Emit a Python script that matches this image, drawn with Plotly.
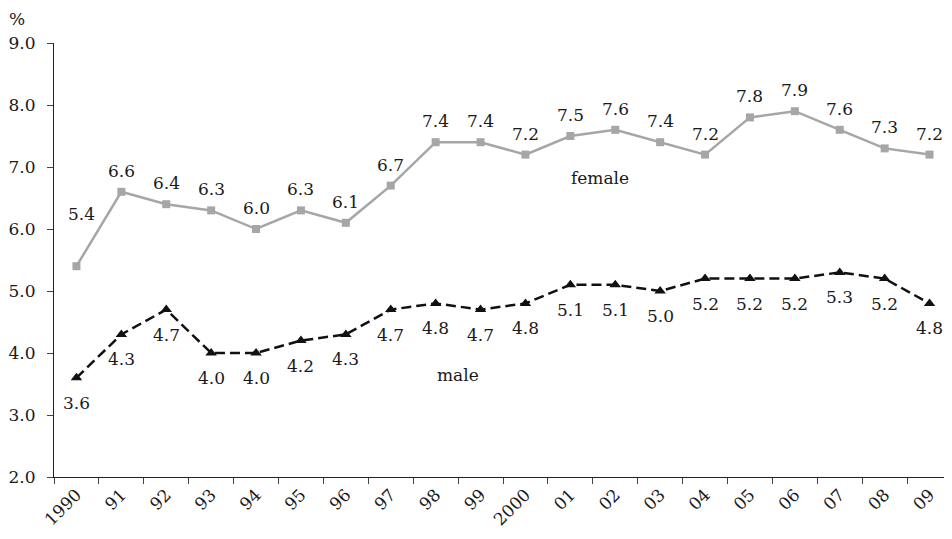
import plotly.graph_objects as go

years = ["1990", "91", "92", "93", "94", "95", "96", "97", "98", "99", "2000",
         "01", "02", "03", "04", "05", "06", "07", "08", "09"]
female = [5.4, 6.6, 6.4, 6.3, 6.0, 6.3, 6.1, 6.7, 7.4, 7.4, 7.2,
          7.5, 7.6, 7.4, 7.2, 7.8, 7.9, 7.6, 7.3, 7.2]
male = [3.6, 4.3, 4.7, 4.0, 4.0, 4.2, 4.3, 4.7, 4.8, 4.7, 4.8,
        5.1, 5.1, 5.0, 5.2, 5.2, 5.2, 5.3, 5.2, 4.8]
yticks = [2.0, 3.0, 4.0, 5.0, 6.0, 7.0, 8.0, 9.0]

FONT = "DejaVu Serif, Liberation Serif, serif"
FS = 17
TXT = "#1a1a1a"

idx = list(range(len(years)))

fig = go.Figure()
fig.add_trace(go.Scatter(
    x=idx, y=female, mode="lines+markers",
    line=dict(color="#a6a6a6", width=2.5),
    marker=dict(symbol="square", size=8, color="#a6a6a6"),
    showlegend=False, cliponaxis=False, hoverinfo="skip"))
fig.add_trace(go.Scatter(
    x=idx, y=male, mode="lines+markers",
    line=dict(color="#111111", width=2.5, dash="10px,5px"),
    marker=dict(symbol="triangle-up", size=10, color="#111111"),
    showlegend=False, cliponaxis=False, hoverinfo="skip"))

ann = []
for i, v in enumerate(female):
    ann.append(dict(x=i, y=v, text=f"{v:.1f}", showarrow=False,
                    xanchor="center", yanchor="bottom",
                    yshift=(40 if i == 0 else 9), xshift=(5 if i == 0 else 0),
                    font=dict(family=FONT, size=FS, color=TXT)))
for i, v in enumerate(male):
    ann.append(dict(x=i, y=v, text=f"{v:.1f}", showarrow=False,
                    xanchor="center", yanchor="top", yshift=-13,
                    font=dict(family=FONT, size=FS, color=TXT)))
ann.append(dict(x=11.66, y=6.82, text="female", showarrow=False, xanchor="center",
                yanchor="middle", font=dict(family=FONT, size=FS, color=TXT)))
ann.append(dict(x=8.5, y=3.65, text="male", showarrow=False, xanchor="center",
                yanchor="middle", font=dict(family=FONT, size=FS, color=TXT)))
ann.append(dict(x=0, y=1, xref="paper", yref="paper", text="%", showarrow=False,
                xanchor="left", yanchor="bottom", xshift=-47, yshift=12,
                font=dict(family=FONT, size=FS, color=TXT)))

fig.update_layout(
    width=944, height=531,
    margin=dict(l=46, r=0, t=35, b=62, autoexpand=False),
    plot_bgcolor="white", paper_bgcolor="white",
    font=dict(family=FONT, size=FS, color=TXT),
    annotations=ann,
    xaxis=dict(range=[-0.5, 19.5], tickmode="array", tickvals=idx, ticktext=years,
               showline=True, linecolor="#222222", automargin=False,
               linewidth=1.2, ticks="", tickangle=-45, showgrid=False, zeroline=False,
               tickfont=dict(family=FONT, size=FS, color=TXT)),
    xaxis2=dict(range=[-0.5, 19.5], overlaying="x", tickmode="array",
                tickvals=[i - 0.5 for i in idx] + [19.5], ticktext=[""] * 21,
                ticks="outside", ticklen=6, tickcolor="#444444", showgrid=False,
                zeroline=False, showline=False, automargin=False, anchor="y", side="bottom"),
    yaxis=dict(range=[2, 9], tickvals=yticks, ticktext=[f"{t:.1f}" for t in yticks],
               showline=True, linecolor="#222222", linewidth=1.2, ticks="outside",
               ticklen=6, tickcolor="#444444", showgrid=False, zeroline=False,
               ticklabelstandoff=8,
               automargin=False, tickfont=dict(family=FONT, size=FS, color=TXT)),
)
fig.add_trace(go.Scatter(x=[None], y=[None], xaxis="x2", showlegend=False, hoverinfo="skip"))
fig.write_html("out.html")
